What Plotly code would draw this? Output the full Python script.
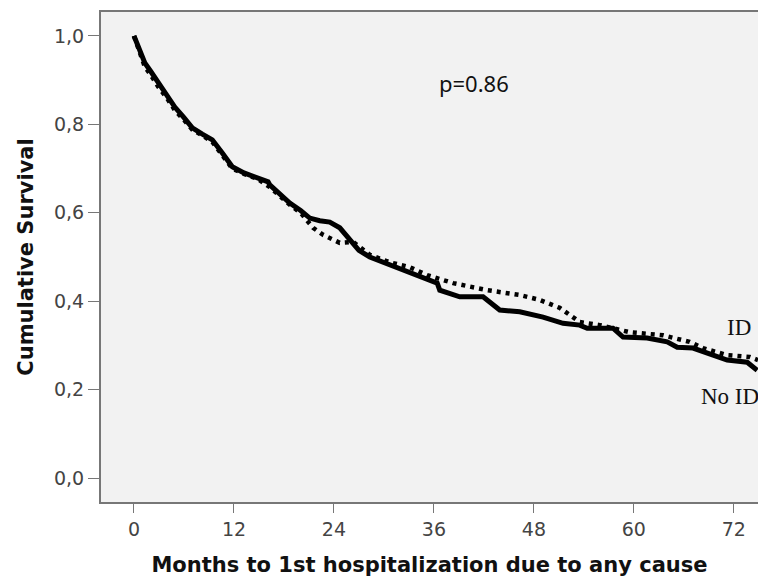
import plotly.graph_objects as go

# No ID (solid) Kaplan-Meier curve
noid_months = [0, 0.5, 1.3, 2.0, 2.9, 4.0, 4.9, 6.0, 7.0, 8.2, 9.4, 10.6, 11.8, 13.2, 14.9, 16.1, 16.3,
               17.8, 18.7, 20.0, 21.1, 22.3, 23.5, 24.7, 25.9, 27.0, 28.3, 30.7, 33.1, 34.3, 36.4, 36.7,
               39.1, 41.9, 42.7, 43.9, 46.3, 49.1, 51.5, 53.5, 54.4, 57.5, 58.7, 61.6, 64.0, 65.2, 67.1,
               69.5, 71.2, 73.6, 74.8]
noid_surv = [1.0, 0.975, 0.939, 0.92, 0.894, 0.865, 0.839, 0.815, 0.792, 0.778, 0.765, 0.735, 0.704, 0.69, 0.679, 0.670, 0.663,
             0.636, 0.622, 0.605, 0.588, 0.582, 0.579, 0.566, 0.538, 0.515, 0.50, 0.482, 0.466, 0.455, 0.441, 0.425,
             0.41, 0.41, 0.398, 0.38, 0.376, 0.364, 0.35, 0.346, 0.339, 0.339, 0.319, 0.317, 0.308, 0.296, 0.294,
             0.278, 0.267, 0.262, 0.244]

# ID (dotted) Kaplan-Meier curve
id_months = [0, 0.5, 1.3, 2.0, 2.9, 4.0, 4.9, 6.0, 7.0, 8.2, 9.4, 10.6, 11.8, 13.2, 14.9, 16.3,
             17.8, 18.7, 20.0, 21.5, 22.7, 24.7, 26.3, 28.3, 30.7, 33.1, 35.2, 38.3, 42.4, 46.3, 48.7,
             51.1, 53.5, 55.9, 59.5, 63.5, 66.7, 68.3, 71.2, 73.9, 74.9]
id_surv = [1.0, 0.97, 0.93, 0.912, 0.885, 0.858, 0.832, 0.81, 0.788, 0.775, 0.76, 0.73, 0.70, 0.688, 0.676, 0.658,
           0.632, 0.618, 0.60, 0.566, 0.550, 0.532, 0.534, 0.505, 0.488, 0.477, 0.459, 0.441, 0.425, 0.414, 0.403,
           0.385, 0.353, 0.346, 0.33, 0.323, 0.308, 0.294, 0.278, 0.274, 0.267]

x_ticks = [0, 12, 24, 36, 48, 60, 72]
y_ticks = [0.0, 0.2, 0.4, 0.6, 0.8, 1.0]
y_tick_labels = ["0,0", "0,2", "0,4", "0,6", "0,8", "1,0"]

fig = go.Figure()
fig.add_trace(go.Scatter(x=id_months, y=id_surv, mode="lines", name="ID",
                         line=dict(color="black", width=4.5, dash="4px,5px")))
fig.add_trace(go.Scatter(x=noid_months, y=noid_surv, mode="lines", name="No ID",
                         line=dict(color="black", width=5)))

fig.add_annotation(x=40.8, y=0.893, text="p=0.86", showarrow=False,
                   font=dict(family="Noto Sans", size=22, color="#111"))
fig.add_annotation(x=70.9, y=0.341, text="ID", showarrow=False, xanchor="left",
                   font=dict(family="Liberation Serif", size=23, color="#111"))
fig.add_annotation(x=67.8, y=0.184, text="No ID", showarrow=False, xanchor="left",
                   font=dict(family="Liberation Serif", size=23, color="#111"))

axis_font = dict(family="DejaVu Sans", size=19, color="#444")
title_font = dict(family="DejaVu Sans", size=21, color="#111")
fig.update_layout(
    width=758, height=578,
    margin=dict(l=101, r=0, t=12, b=76),
    paper_bgcolor="white", plot_bgcolor="#f2f2f2",
    showlegend=False,
    xaxis=dict(range=[-3.96, 74.9], tickvals=x_ticks, ticks="outside", ticklen=9,
               tickcolor="#777", linecolor="#777", linewidth=2, showline=True, mirror=True,
               showgrid=False, zeroline=False, tickfont=axis_font,
               title=dict(text="<b>Months to 1st hospitalization due to any cause</b>",
                          font=title_font, standoff=19)),
    yaxis=dict(range=[-0.054, 1.054], tickvals=y_ticks, ticktext=y_tick_labels, ticks="outside",
               ticklen=11, tickcolor="#777", linecolor="#777", linewidth=2, showline=True,
               showgrid=False, zeroline=False, tickfont=axis_font,
               title=dict(text="<b>Cumulative Survival</b>", font=title_font, standoff=15)),
)

fig.write_html("out.html", config={"displayModeBar": False},
               post_script="document.body.style.margin='0';document.body.style.overflow='hidden';")
